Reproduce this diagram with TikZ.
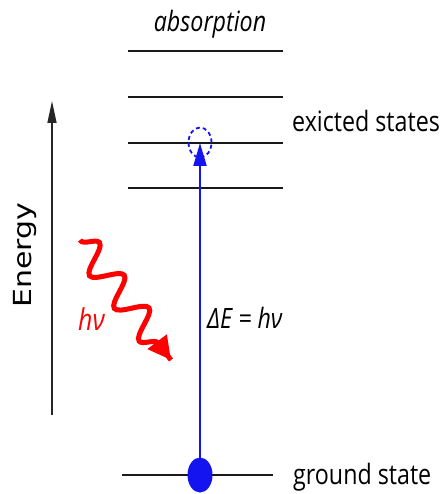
\documentclass[tikz,border=0pt]{standalone}
\usepackage{fontspec}
\usepackage{graphicx}
\setmainfont{Open Sans}
\setsansfont{Open Sans}
\newfontfamily\dejavu{DejaVu Sans}
\usetikzlibrary{arrows.meta,decorations.pathmorphing,shapes.geometric,calc}
\newcommand{\sq}[1]{\scalebox{0.83}[1]{#1}}
\definecolor{myblue}{RGB}{20,20,240}
\begin{document}
\begin{tikzpicture}[x=1pt,y=-1pt,
  level/.style={line width=2pt,black!90},
  lbl/.style={font=\fontsize{28}{30}\selectfont,anchor=base west,inner sep=0pt},
  photon/.style={red,line width=5pt,decorate,decoration={snake,amplitude=14pt,segment length=41pt,pre length=1pt,post length=19pt}}]
\useasboundingbox (0,0) rectangle (443,494);
% levels
\coordinate (l1a) at (128,51); \coordinate (l1b) at (283,51);
\coordinate (l2a) at (128,97); \coordinate (l2b) at (283,97);
\coordinate (l3a) at (128,143); \coordinate (l3b) at (283,143);
\coordinate (l4a) at (128,188); \coordinate (l4b) at (283,188);
\coordinate (g1) at (122,475); \coordinate (g2) at (273,475);
\draw[level] (l1a) -- (l1b);
\draw[level] (l2a) -- (l2b);
\draw[level] (l3a) -- (l3b);
\draw[level] (l4a) -- (l4b);
\draw[level] (g1) -- (g2);
% labels
\node[font=\fontsize{28}{30}\selectfont\itshape,inner sep=0pt,anchor=base] (abs) at (210,32) {\sq{absorption}};
\node[lbl] (exc) at (292,132) {\sq{exicted states}};
\node[lbl] (gs) at (293,484) {\sq{ground state}};
% energy axis
\coordinate (ea) at (52,415); \coordinate (eb) at (52,101);
\draw[line width=1.5pt,black!85,-{Triangle[length=22pt,width=9pt]}] (ea) -- (eb);
\node[rotate=90,font=\dejavu\fontsize{30}{32}\selectfont,inner sep=0pt] (en) at (25,255) {\scalebox{1}[0.83]{Energy}};
% ground state dot
\node[ellipse,fill=myblue,minimum width=25pt,minimum height=35pt,inner sep=0pt] (dot) at (200,475) {};
% dashed excited circle
\node[ellipse,draw=myblue,line width=1.8pt,minimum width=23pt,minimum height=30pt,inner sep=0pt,dash pattern=on 4pt off 3pt] (exdot) at (200,142.5) {};
\coordinate (tip) at (200,143);
\draw[draw=myblue,fill=myblue,line width=2.2pt,-{Triangle[length=23pt,width=13pt]}] (dot.center) -- (tip);
\node[font=\fontsize{28}{30}\selectfont\itshape,inner sep=0pt,anchor=base west] (de) at (207,328) {\sq{ΔE = hν}};
% photon
\coordinate (ps) at (80,240); \coordinate (pe) at (171,360);
\draw[photon] (ps) -- (pe);
\draw[red,line width=5pt,-{Triangle[length=23pt,width=23pt]}] ($(pe)!21pt!(ps)$) -- (pe);
\node[red,font=\fontsize{30}{32}\selectfont\itshape,inner sep=0pt,anchor=base west] (hv) at (78,330) {\sq{hν}};
\end{tikzpicture}
\end{document}
